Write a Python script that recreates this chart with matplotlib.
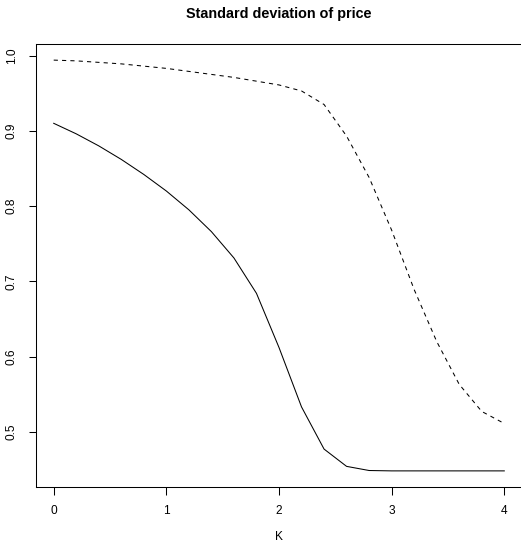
import matplotlib.pyplot as plt
import numpy as np

plt.rcParams['font.family'] = ['Liberation Sans', 'DejaVu Sans']

# valores de K e os dois desvios-padrão
K = [0.0, 0.2, 0.4, 0.6, 0.8, 1.0, 1.2, 1.4, 1.6, 1.8, 2.0,
     2.2, 2.4, 2.6, 2.8, 3.0, 3.2, 3.4, 3.6, 3.8, 4.0]
sd_solid = [0.910, 0.896, 0.880, 0.862, 0.842, 0.820, 0.795, 0.766, 0.731, 0.684, 0.612,
            0.533, 0.477, 0.454, 0.4485, 0.448, 0.448, 0.448, 0.448, 0.448, 0.448]
sd_dashed = [0.994, 0.993, 0.991, 0.989, 0.986, 0.983, 0.979, 0.975, 0.971, 0.966, 0.961,
             0.953, 0.935, 0.893, 0.838, 0.768, 0.689, 0.620, 0.563, 0.527, 0.511]

xticks = [0, 1, 2, 3, 4]
yticks = [0.5, 0.6, 0.7, 0.8, 0.9, 1.0]

fig = plt.figure(figsize=(5.21, 5.44), dpi=100)
ax = fig.add_axes([0.0685, 0.1042, 0.934, 0.8155])

ax.plot(K, sd_solid, color='black', linewidth=0.75)
ax.plot(K, sd_dashed, color='black', linewidth=0.75, linestyle=(0, (4, 4)))

# limites ao estilo do R (4% de folga)
allv = sd_solid + sd_dashed
r = max(allv) - min(allv)
ax.set_xlim(-0.16, 4.16)
ax.set_ylim(min(allv) - 0.04 * r, max(allv) + 0.04 * r)

ax.set_xticks(xticks)
ax.set_xticklabels([str(t) for t in xticks])
ax.set_yticks(yticks)
ax.set_yticklabels([f'{t:.1f}' for t in yticks], rotation=90, va='center')
ax.tick_params(direction='out', length=5.4, width=0.75, labelsize=8.6, pad=7.5)

for s in ax.spines.values():
    s.set_linewidth(0.75)

ax.set_xlabel('K', fontsize=8.6, labelpad=10)
fig.text(0.535, 1 - 14 / 544, 'Standard deviation of price', ha='center', va='center',
         fontsize=10.4, fontweight='bold')

plt.savefig('out.png', dpi=100)
